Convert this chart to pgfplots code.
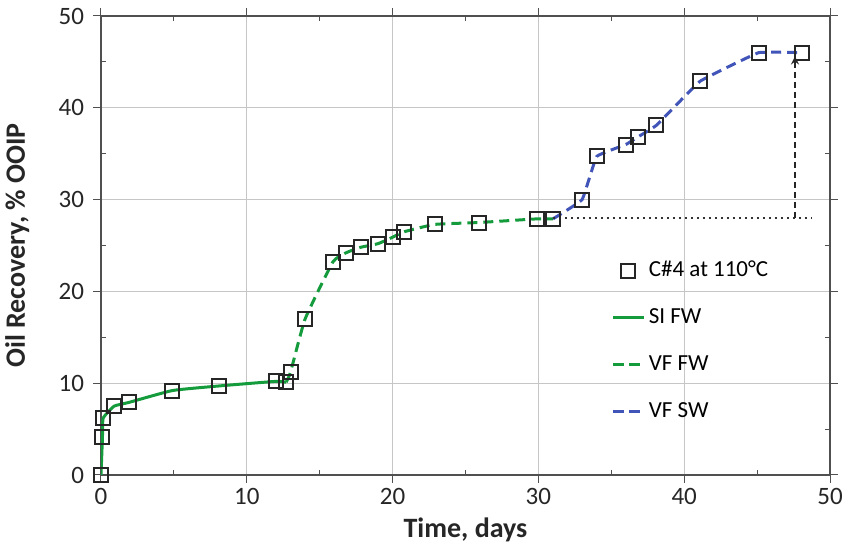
\documentclass[border=0pt]{standalone}
\usepackage{fontspec}
\setmainfont{Carlito}
\usepackage{pgfplots}
\pgfplotsset{compat=1.18}
\definecolor{sigreen}{RGB}{20,155,60}
\definecolor{swblue}{RGB}{65,85,185}
\definecolor{boxgray}{RGB}{80,80,80}

\pgfplotstableread{
t   r
0    0
0.1  4.1
0.15 6.2
0.9  7.5
1.9  7.9
4.9  9.2
8.1  9.7
12.0 10.2
12.7 10.1
13.0 11.2
14.0 17.0
15.9 23.2
16.8 24.2
17.8 24.8
19.0 25.2
20.0 25.9
20.8 26.5
22.9 27.3
25.9 27.5
29.9 27.9
31.0 27.9
33.0 30.0
34.0 34.7
36.0 36.0
36.8 36.8
38.1 38.1
41.1 42.9
45.1 46.0
48.1 46.0
}\alldata

\pgfplotstableread{
t   r
0    0
0.1  4.1
0.15 6.2
0.9  7.5
1.9  7.9
4.9  9.2
8.1  9.7
12.0 10.2
12.7 10.1
}\sifw

\pgfplotstableread{
t   r
12.7 10.1
13.0 11.2
14.0 17.0
15.9 23.2
16.8 24.2
17.8 24.8
19.0 25.2
20.0 25.9
20.8 26.5
22.9 27.3
25.9 27.5
29.9 27.9
31.0 27.9
}\vffw

\pgfplotstableread{
t   r
31.0 27.9
33.0 30.0
34.0 34.7
36.0 36.0
36.8 36.8
38.1 38.1
41.1 42.9
45.1 46.0
48.1 46.0
}\vfsw

\begin{document}
\begin{tikzpicture}
\begin{axis}[
    scale only axis,
    width=364.5pt, height=229.5pt,
    xmin=0, xmax=50, ymin=0, ymax=50,
    xtick={0,10,...,50}, ytick={0,10,...,50},
    minor x tick num=1, minor y tick num=1,
    tick align=inside,
    major tick length=-4pt, minor tick length=2.5pt,
    grid=major,
    major grid style={gray!45, line width=0.5pt},
    axis line style={boxgray, line width=1pt},
    tick style={boxgray, line width=0.5pt},
    /pgf/number format/assume math mode=true,
    ticklabel style={font=\fontsize{12.5}{14}\selectfont, text=black!85},
    xticklabel style={yshift=-3pt},
    yticklabel style={xshift=-5pt},
    xlabel={\bfseries Time, days},
    ylabel={\bfseries Oil Recovery, \% OOIP},
    label style={font=\fontsize{14}{16}\selectfont, text=black!85},
    xlabel style={at={(axis description cs:0.5,-0.12)}, anchor=center},
    ylabel style={at={(axis description cs:-0.115,0.5)}, anchor=center},
    legend style={draw=none, fill=none, at={(axis cs:34.6,24.2)}, anchor=north west,
        font=\fontsize{11.5}{13}\selectfont, row sep=10.5pt,
        /tikz/every even column/.append style={column sep=1pt}},
    legend cell align=left,
    legend image code/.code={\draw[mark repeat=2,mark phase=2,#1]
        plot coordinates {(0pt,0pt)(7.5pt,0pt)(15pt,0pt)};},
]
\addplot[only marks, mark=square, mark size=3.5pt, mark options={black!85, line width=1pt}]
    table[x=t,y=r]{\alldata};
\addlegendentry{C\#4 at 110°C}
\addplot[sigreen, line width=1.5pt, smooth, tension=0.25] table[x=t,y=r]{\sifw};
\addlegendentry{SI FW}
\addplot[sigreen, line width=1.5pt, dash pattern=on 5pt off 3pt, smooth, tension=0.25] table[x=t,y=r]{\vffw};
\addlegendentry{VF FW}
\addplot[swblue, line width=1.5pt, dash pattern=on 5pt off 3pt, smooth, tension=0.15] table[x=t,y=r]{\vfsw};
\addlegendentry{VF SW}
\addplot[black!80, line width=1pt, dotted, forget plot] coordinates {(31,28) (48.7,28)};
\addplot[black!85, line width=0.8pt, densely dashed, -stealth, forget plot] coordinates {(47.6,28) (47.6,45.6)};
\end{axis}
\pgfresetboundingbox
\path[use as bounding box] (current axis.south west) ++(-50.5pt,-37pt) rectangle ([shift={(7.5pt,8pt)}]current axis.north east);
\end{tikzpicture}
\end{document}
